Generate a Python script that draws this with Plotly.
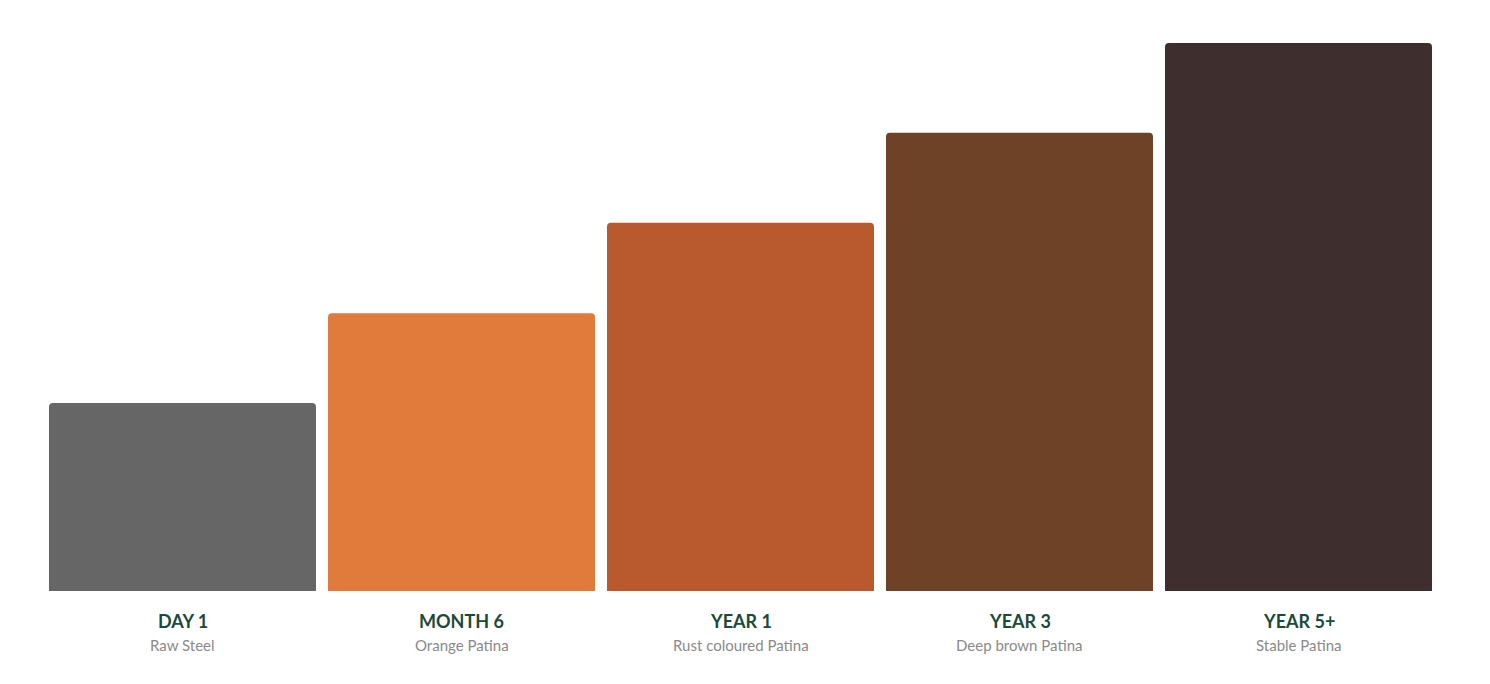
import plotly.graph_objects as go

# stages of weathering steel patina
stages = ["DAY 1", "MONTH 6", "YEAR 1", "YEAR 3", "YEAR 5+"]
descriptions = ["Raw Steel", "Orange Patina", "Rust coloured Patina", "Deep brown Patina", "Stable Patina"]
heights = [34.3, 50.7, 67.2, 83.6, 100]
colors = ["#666666", "#E07B3B", "#B85A2D", "#6D4227", "#3E2E2E"]

fig = go.Figure()

fig.add_trace(go.Bar(
    x=stages,
    y=heights,
    marker_color=colors,
    marker_line_width=0,
    hoverinfo="skip",
))

# stage name + description under each bar
for stage, desc in zip(stages, descriptions):
    fig.add_annotation(x=stage, y=-30 / 548, xref="x", yref="paper",
                       text="<b>" + stage + "</b>", showarrow=False,
                       yanchor="middle",
                       font=dict(family="Lato", size=18, color="#1B4A3A"))
    fig.add_annotation(x=stage, y=-54 / 548, xref="x", yref="paper",
                       text=desc, showarrow=False, yanchor="middle",
                       font=dict(family="Lato", size=15, color="#8A8A8A"))

fig.update_layout(
    width=1490,
    height=684,
    margin=dict(l=35, r=60, t=35, b=101),
    bargap=12 / 279,
    barcornerradius=4,
    plot_bgcolor="white",
    paper_bgcolor="white",
    showlegend=False,
    xaxis=dict(showticklabels=False, showgrid=False, zeroline=False, showline=False),
    yaxis=dict(range=[0, 100], showticklabels=False, showgrid=False, zeroline=False, showline=False),
)

fig.write_html("out.html")
